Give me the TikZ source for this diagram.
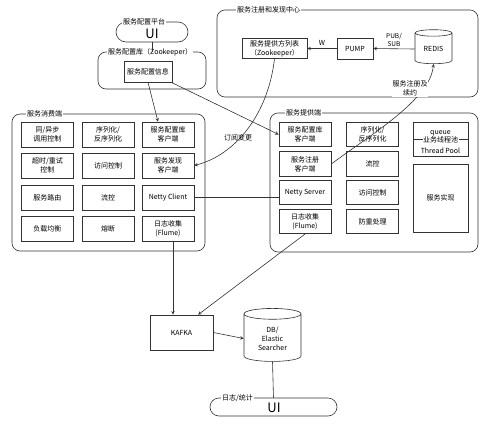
\documentclass[tikz,border=0pt]{standalone}
\usepackage{fontspec}
\newfontfamily\cjk{Noto Sans CJK SC}
\usetikzlibrary{positioning}
\usetikzlibrary{calc}
\usetikzlibrary{shapes.geometric}

\begin{document}
\begin{tikzpicture}[x=1pt,y=-1pt,every node/.style={font=\cjk\fontsize{7}{9}\selectfont,inner sep=1pt}, >=stealth]
    \tikzstyle{cell box}=[draw=black!80,line width=0.6pt,minimum width=52pt,minimum height=25pt,align=center]
    \tikzstyle{group lines}=[draw=black!80,line width=0.6pt,rounded corners=8pt,minimum width=#1]
    \tikzstyle{group label}=[fill=white,anchor=west,inner sep=1pt]
    \tikzstyle{wire}=[draw=black!80,line width=0.6pt]
    \tikzstyle{db can}=[cylinder,shape border rotate=90,shape aspect=0.3,draw=black!80,line width=0.6pt,align=center]
    \tikzstyle{big ui}=[font=\cjk\fontsize{13}{13}\selectfont]

\useasboundingbox (0,0) rectangle (499,426);

    % group frames
    \node[group lines=72pt,minimum height=20pt,rounded corners=10pt] (uitop) at (152,32) {};
    \node[group lines=108pt,minimum height=37pt] (cfglib) at (152,70.5) {};
    \node[group lines=261pt,minimum height=87pt] (center) at (347.5,53.5) {};
    \node[group lines=193pt,minimum height=137pt] (consumer) at (108.5,182.5) {};
    \node[group lines=208pt,minimum height=139pt] (provider) at (374,182.5) {};
    \node[group lines=127pt,minimum height=18pt,rounded corners=9pt] (uibot) at (273.5,407) {};

    % frame labels
    \node[group label] (uitoplbl) at (122,22) {服务配置平台};
    \node[group label] (cfgliblbl) at (107,52) {服务配置库（Zookeeper）};
    \node[group label] (centerlbl) at (236,10) {服务注册和发现中心};
    \node[group label] (consumerlbl) at (26,114) {服务消费端};
    \node[group label] (providerlbl) at (285,113) {服务提供端};
    \node[group label] (uibotlbl) at (221,398) {日志/统计};
    \node[big ui] (uitoptxt) at (152,34) {UI};
    \node[big ui] (uibottxt) at (274,408) {UI};

    % config lib and registry center
    \node[cell box,minimum width=48pt,minimum height=21pt] (cfginfo) at (148,71.5) {服务配置信息};
    \node[cell box,minimum width=65pt,minimum height=20pt,inner sep=0pt] (plist) at (274.5,48.5) {服务提供方列表\\（Zookeeper）};
    \node[cell box,minimum width=36pt,minimum height=21pt] (pump) at (355,48.5) {PUMP};
    \node[db can,minimum width=37pt,minimum height=34pt] (redis) at (433.5,49) {REDIS};

    % consumer side
    \node[cell box] (c11) at (47.5,134.5) {同/异步\\调用控制};
    \node[cell box] (c12) at (108,134.5) {序列化/\\反序列化};
    \node[cell box] (c13) at (168,134.5) {服务配置库\\客户端};
    \node[cell box] (c21) at (47.5,165.5) {超时/重试\\控制};
    \node[cell box] (c22) at (108,165.5) {访问控制};
    \node[cell box] (c23) at (168,165.5) {服务发现\\客户端};
    \node[cell box] (c31) at (47.5,197.5) {服务路由};
    \node[cell box] (c32) at (108,197.5) {流控};
    \node[cell box] (c33) at (168,197.5) {Netty Client};
    \node[cell box] (c41) at (47.5,229) {负载均衡};
    \node[cell box] (c42) at (108,229) {熔断};
    \node[cell box] (c43) at (168,229) {日志收集\\(Flume)};

    % provider side
    \node[cell box,minimum height=24.5pt] (p11) at (305,134.5) {服务配置库\\客户端};
    \node[cell box,minimum height=24.5pt] (p21) at (305,164) {服务注册\\客户端};
    \node[cell box,minimum height=24.5pt] (p31) at (305,192.5) {Netty Server};
    \node[cell box,minimum height=24.5pt] (p41) at (305,221.5) {日志收集\\(Flume)};
    \node[cell box,minimum height=24.5pt] (p12) at (372.5,134.5) {序列化/\\反序列化};
    \node[cell box,minimum height=24.5pt] (p22) at (372.5,164) {流控};
    \node[cell box,minimum height=24.5pt] (p32) at (372.5,192.5) {访问控制};
    \node[cell box,minimum height=24.5pt] (p42) at (372.5,221.5) {防重处理};
    \node[cell box,minimum width=55pt,minimum height=34pt] (tpool) at (440.5,139) {};
    \draw[wire] (tpool.west) -- (tpool.east); % pool divider
    \node (tpqueue) at (440.5,133) {queue};
    \node[fill=white,inner sep=0.5pt] (tpname) at (440.5,140) {业务线程池};
    \node (tpthread) at (440.5,150.5) {Thread Pool};
    \node[cell box,minimum width=55pt,minimum height=68pt] (impl) at (440.5,198) {服务实现};

    % log pipeline
    \node[cell box,minimum width=63pt,minimum height=35pt] (kafka) at (181.5,332.5) {KAFKA};
    \node[db can,minimum width=57pt,minimum height=53pt,shape aspect=0.35] (db) at (272.5,338.5) {DB/\\Elastic\\Searcher};

    % connectors
    \draw[wire] (uitop.south) -- (cfglib.north);
    \draw[wire,->] (cfginfo.south) -- (c13.128);
    \draw[wire,->] (cfginfo.-25) -- (p11.west);
    \draw[wire,->] (pump.west) -- node[above=2pt] (wlbl) {W} (plist.east);
    \draw[wire,->] (redis.west) -- node[above=1pt,align=center,font=\cjk\fontsize{6.5}{7.5}\selectfont] (pubsub) {PUB/\\SUB} (pump.east);
    \draw[wire,->] (plist.south) .. controls (268,115) and (235,155) .. (c23.east); % subscribe
    \node (sublbl) at (238,138) {订阅变更};
    \draw[wire,->] (p21.east) .. controls (370,135) and (430,100) .. (redis.south); % register
    \node[align=center,fill=white,inner sep=0.5pt] (reglbl) at (410,88.5) {服务注册及\\续约};
    \draw[wire] (c33.east) -- (c33.east -| p31.west);
    \draw[wire,->] (c43.south) ++(5,0) coordinate (c43out) -- (c43out |- kafka.north);
    \draw[wire,->] (p41.south) -- (kafka.47);
    \draw[wire,->] (kafka.east) -- (db.west);
    \draw[wire] (db.south) -- (uibot.north);
\end{tikzpicture}
\end{document}
